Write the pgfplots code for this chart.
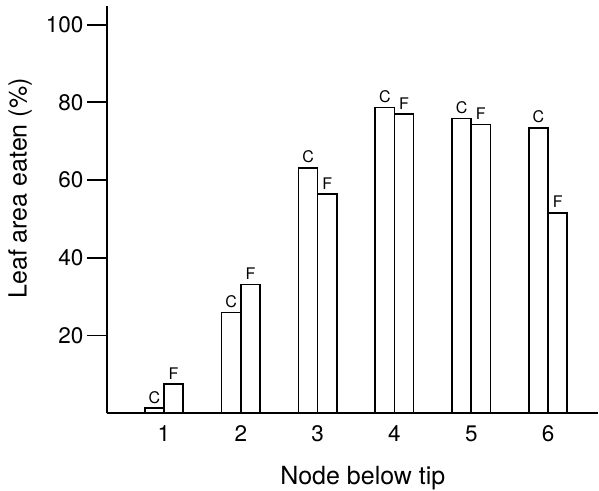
\documentclass[border=0pt]{standalone}
\usepackage{fontspec}
\setmainfont{TeX Gyre Heros}
\usepackage{pgfplots}
\pgfplotsset{compat=1.18}
\begin{document}
\begin{tikzpicture}
\begin{axis}[
  name=ax,
  scale only axis, width=491pt, height=407.3pt,
  xmin=0.258, xmax=6.65, ymin=0, ymax=104.8,
  axis x line*=bottom, axis y line*=left,
  axis line style={line width=1.8pt, black},
  ytick={20,40,60,80,100},
  xtick={1,2,3,4,5,6},
  ytick align=outside,
  xtick align=inside,
  major tick length=20pt,
  ytick style={line width=1.8pt, black},
  xtick style={draw=none},
  /pgf/number format/assume math mode=true,
  tick label style={font=\fontsize{22.5}{26}\selectfont},
  xticklabel style={anchor=base, yshift=-28pt},
  label style={font=\fontsize{25}{28}\selectfont},
  xlabel={Node below tip},
  ylabel={Leaf area eaten (\%)},
  xlabel style={at={(axis description cs:0.521,-0.176)}, anchor=base},
  ylabel style={at={(axis description cs:-0.177,0.552)}, anchor=center},
  clip=false,
  every node near coord/.append style={font=\fontsize{16}{18}\selectfont, black, inner sep=4pt, anchor=south},
]
\addplot[ybar, bar width=0.25, bar shift=-0.125, draw=black, fill=white, line width=1.6pt,
  nodes near coords={C}, every node near coord/.append style={xshift=-9.6pt}]
  coordinates {(1,1.3) (2,25.9) (3,63.1) (4,78.7) (5,75.8) (6,73.4)};
\addplot[ybar, bar width=0.25, bar shift=0.125, draw=black, fill=white, line width=1.6pt,
  nodes near coords={F}, every node near coord/.append style={xshift=9.6pt}]
  coordinates {(1,7.5) (2,33.1) (3,56.4) (4,77.0) (5,74.3) (6,51.6)};
\end{axis}
\pgfresetboundingbox
\useasboundingbox ([xshift=-107pt,yshift=-77.7pt]ax.south west) rectangle ([xshift=1pt,yshift=6pt]ax.north east);
\end{tikzpicture}
\end{document}
